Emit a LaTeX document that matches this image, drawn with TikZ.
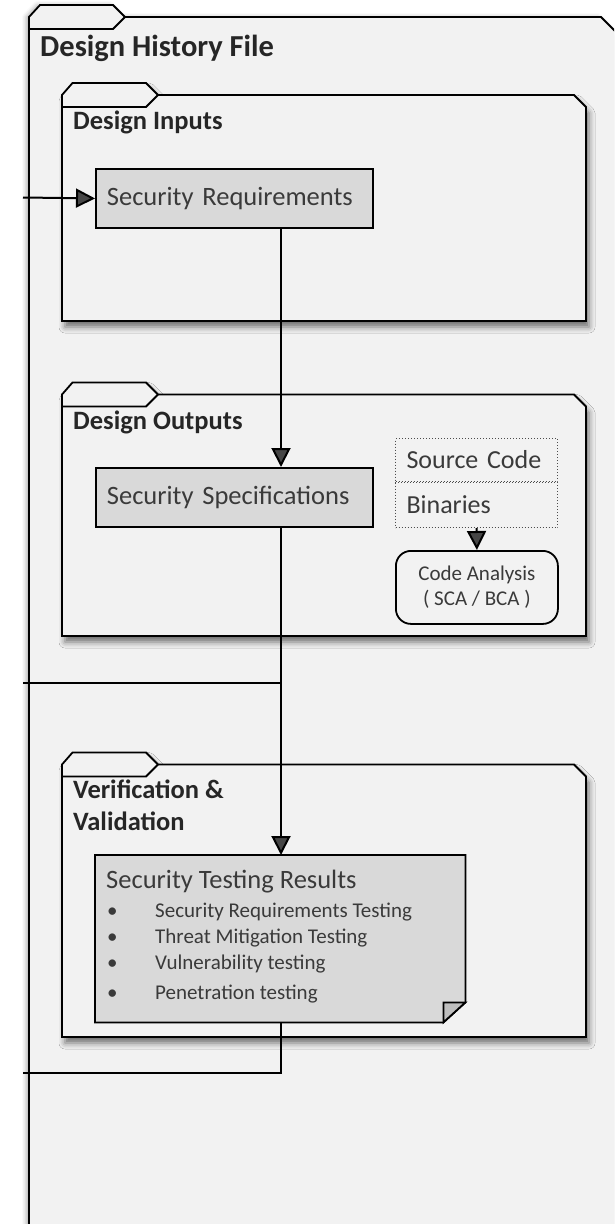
\documentclass[tikz,border=0pt]{standalone}
\usepackage{fontspec}
\setmainfont{Carlito}
\usetikzlibrary{arrows.meta,positioning,shadows.blur}

\definecolor{folderfill}{HTML}{F2F2F2}
\definecolor{boxfill}{HTML}{D9D9D9}
\definecolor{foldfill}{HTML}{BFBFBF}
\definecolor{titletext}{HTML}{262626}
\definecolor{bodytext}{HTML}{3A3A3A}

\begin{document}
\begin{tikzpicture}[x=1pt, y=-1pt,
    folder/.style={draw=black, line width=1.8pt, fill=folderfill},
    foldershadow/.style={blur shadow={shadow xshift=3pt, shadow yshift=-6pt,
        shadow blur radius=6pt, shadow opacity=55}},
    foldertitle/.style={anchor=base west, inner sep=0pt, align=left,
        font=\bfseries\fontsize{26.5}{32}\selectfont, text=titletext},
    box/.style={draw=black, line width=1.8pt, fill=boxfill, text=bodytext,
        font=\fontsize{26.5}{30}\selectfont, anchor=north west, minimum height=59pt,
        text width=255pt, inner xsep=11pt, align=left},
    srcbox/.style={draw=black!70, dotted, line width=1pt, text=bodytext,
        font=\fontsize{26}{30}\selectfont, text width=140pt, inner xsep=11pt,
        align=left},
    item/.style={anchor=base west, inner sep=0pt, text=bodytext,
        font=\fontsize{21}{24}\selectfont},
    flow/.style={line width=2pt, -{Triangle[length=19pt, width=19pt]}},
    link/.style={line width=2pt}
  ]
    \useasboundingbox (0,0) rectangle (614,1224);
    \clip (0,0) rectangle (614,1224);
    % outer folder
    \draw[folder, blur shadow={shadow xshift=-3pt, shadow yshift=0pt, shadow blur radius=4pt, shadow opacity=30}]
        (29,1240) -- (29,17) -- (40,5) -- (113,5) -- (125,17) -- (601,17) -- (620,36) -- (620,1240) -- cycle;
    \draw[line width=1.8pt] (29,29) -- (113,29) -- (125,17);
    \node[anchor=base west, inner sep=0pt, font=\bfseries\fontsize{30.5}{34}\selectfont, text=titletext] (dhf) at (40,56) {Design History File};
    % design inputs
    \draw[folder, foldershadow] (62,321) -- (62,95) -- (72.5,83) -- (146,83) -- (158,95) -- (574,95) -- (586,107) -- (586,321) -- cycle;
    \draw[line width=1.8pt] (62,107) -- (146,107) -- (158,95);
    \node[foldertitle] (inputs) at (73,129) {Design Inputs};
    % design outputs
    \draw[folder, foldershadow] (62,636) -- (62,394.5) -- (72.5,382.5) -- (146,382.5) -- (158,394.5) -- (574,394.5) -- (586,406.5) -- (586,636) -- cycle;
    \draw[line width=1.8pt] (62,406.5) -- (146,406.5) -- (158,394.5);
    \node[foldertitle] (outputs) at (73,429) {Design Outputs};
    % verification and validation
    \draw[folder, foldershadow] (62,1037) -- (62,764.5) -- (72.5,752.5) -- (146,752.5) -- (158,764.5) -- (574,764.5) -- (586,776.5) -- (586,1037) -- cycle;
    \draw[line width=1.8pt] (62,776.5) -- (146,776.5) -- (158,764.5);
    \node[foldertitle] (vandv) at (73,830) {Verification \&\\Validation};
    % boxes
    \node[box] (req) at (95,168) {Security Requirements};
    \node[box] (spec) at (95,467) {Security Specifications};
    \node[srcbox, anchor=north west, minimum height=43pt] (src) at (395,438) {Source Code};
    \node[srcbox, below=0pt of src, minimum height=45pt] (bin) {Binaries};
    \node[draw, line width=1.8pt, rounded corners=15pt, anchor=north west, minimum width=162pt,
        minimum height=73pt, align=center, font=\fontsize{21}{25}\selectfont, text=bodytext] (code) at (395,550) {Code Analysis\\( SCA / BCA )};
    % testing results note
    \node[anchor=north west, minimum width=370pt, minimum height=167pt, inner sep=0pt] (test) at (95,855) {};
    \draw[line width=1.8pt, fill=boxfill] (test.north west) -- (test.north east) -- ([yshift=20pt]test.south east)
        -- ([xshift=-22pt]test.south east) -- (test.south west) -- cycle;
    \draw[line width=1.8pt, fill=foldfill] ([xshift=-22pt]test.south east) -- ([xshift=-22pt,yshift=20pt]test.south east)
        -- ([yshift=20pt]test.south east) -- cycle;
    \node[anchor=base west, inner sep=0pt, font=\fontsize{26.5}{30}\selectfont, text=bodytext] (testtitle) at (106,888) {Security Testing Results};
    \node[item] (t1) at (107,917) {\makebox[48pt][l]{\textbullet}Security Requirements Testing};
    \node[item] (t2) at (107,943) {\makebox[48pt][l]{\textbullet}Threat Mitigation Testing};
    \node[item] (t3) at (107,969) {\makebox[48pt][l]{\textbullet}Vulnerability testing};
    \node[item] (t4) at (107,999) {\makebox[48pt][l]{\textbullet}Penetration testing};
    % connectors
    \coordinate (trunk) at (281,0);
    \coordinate (inA) at (23,197.5);
    \coordinate (inB) at (23,683);
    \coordinate (outC) at (23,1073);
    \draw[flow] (inA) -- (req.west);
    \draw[flow] (req.south -| trunk) -- (spec.north -| trunk);
    \draw[flow] (spec.south -| trunk) -- (test.north -| trunk);
    \draw[link] (inB) -- (inB -| trunk);
    \draw[link] (test.south -| trunk) |- (outC);
    \draw[flow] (bin.south) -- (code.north);
\end{tikzpicture}
\end{document}
